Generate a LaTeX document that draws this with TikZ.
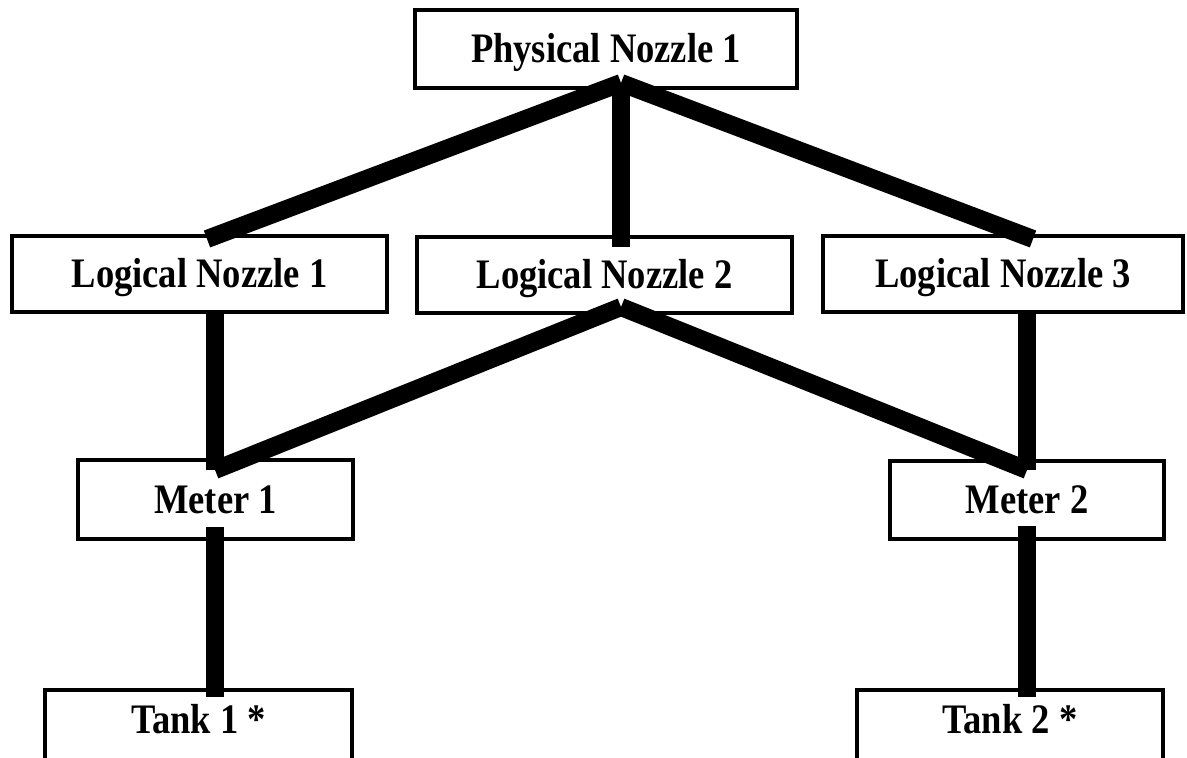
\documentclass[tikz,border=0pt]{standalone}
\usepackage{fontspec}
\setmainfont[FakeStretch=0.87]{Liberation Serif}
\usepackage{tikz}

\begin{document}
\begin{tikzpicture}[x=0.5pt, y=-0.5pt,
		box/.style={draw, line width=1.8pt, fill=white, inner sep=0pt, text height=13.9pt, text depth=0pt, font=\fontsize{21}{25}\selectfont\bfseries},
		tankbox/.style={box, anchor=north, text height=22pt, text depth=30pt},
		link/.style={line width=9pt, line cap=butt}]
		\useasboundingbox (0,0) rectangle (1187,758);
		\clip (0,0) rectangle (1187,758);
		\node[box, minimum width=191pt, minimum height=39pt] (phys) at (606,49) {Physical Nozzle 1};
		\node[box, minimum width=187.5pt, minimum height=38pt] (ln1) at (199.5,274) {Logical Nozzle 1};
		\node[box, minimum width=187.5pt, minimum height=38pt] (ln2) at (604.5,275) {Logical Nozzle 2};
		\node[box, minimum width=180pt, minimum height=38pt] (ln3) at (1003,274) {Logical Nozzle 3};
		\node[box, minimum width=137.5pt, minimum height=39.5pt] (m1) at (215.5,499.5) {Meter 1};
		\node[box, minimum width=137pt, minimum height=39pt] (m2) at (1027,500) {Meter 2};
		\node[tankbox, minimum width=153.5pt] (t1) at (198.5,688) {Tank 1 *};
		\node[tankbox, minimum width=153pt] (t2) at (1010,688) {Tank 2 *};
		% ends of the bars
		\coordinate (physj) at (621,83);
		\coordinate (ln1top) at (207,239);
		\coordinate (ln2top) at (621,247);
		\coordinate (ln3top) at (1033,239);
		\coordinate (ln1bot) at (215,312);
		\coordinate (ln2j) at (621,307);
		\coordinate (ln3bot) at (1027,312);
		\coordinate (m1top) at (215,470);
		\coordinate (m2top) at (1027,470);
		\coordinate (m1bot) at (215,527);
		\coordinate (m2bot) at (1027,526);
		\coordinate (t1top) at (215,697);
		\coordinate (t2top) at (1027,697);
		\foreach \a/\b in {physj/ln1top, physj/ln2top, physj/ln3top, ln1bot/m1top, ln2j/m1top, ln2j/m2top, ln3bot/m2top, m1bot/t1top, m2bot/t2top}
			\draw[link] (\a) -- (\b);
\end{tikzpicture}
\end{document}
